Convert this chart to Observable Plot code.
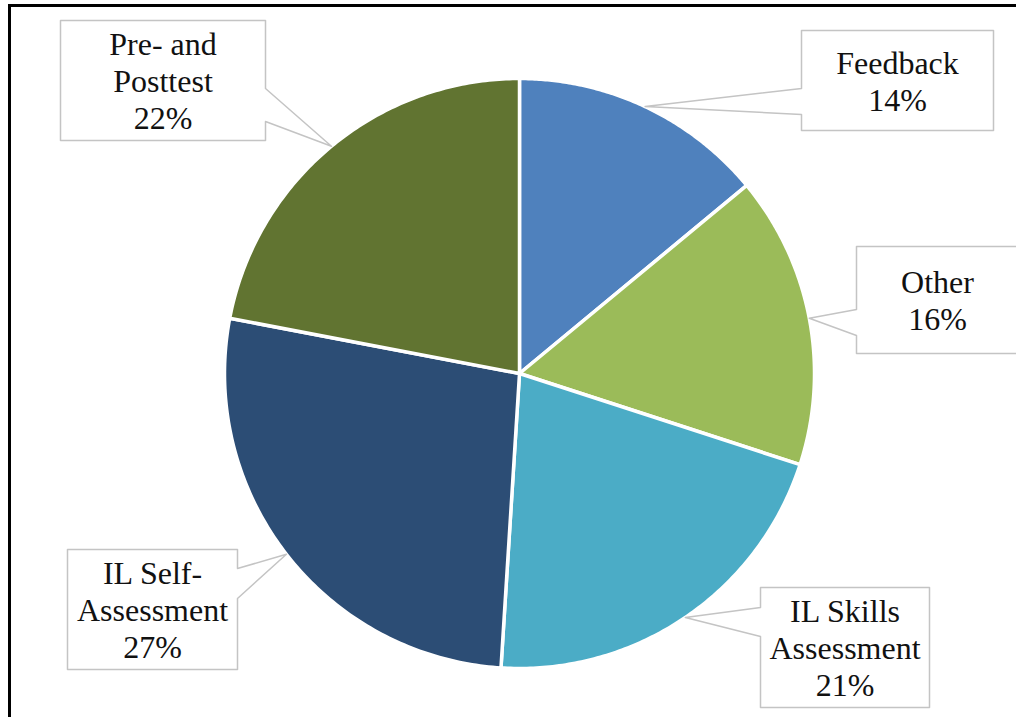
<!DOCTYPE html>
<html><head><meta charset="utf-8">
<script src="https://cdn.jsdelivr.net/npm/d3@7"></script>
<script src="https://cdn.jsdelivr.net/npm/@observablehq/plot@0.6"></script>
<style>
body{margin:0;background:#fff;}
#wrap{position:relative;width:1016px;height:717px;overflow:hidden;}
#frame{position:absolute;left:8px;top:4px;right:-10px;bottom:-10px;border-top:3px solid #000;border-left:3px solid #000;pointer-events:none;}
#chart svg, #chart text, #chart tspan { font-family: "Liberation Serif", "Times New Roman", Times, serif !important; }
</style></head><body><div id="wrap"><div id="chart"></div><div id="frame"></div></div>
<script>
// ---- data ----
const categories = ["Feedback", "Other", "IL Skills Assessment", "IL Self-Assessment", "Pre- and Posttest"];
const values = [14, 16, 21, 27, 22];
const labelTexts = ["Feedback\n14%", "Other\n16%", "IL Skills\nAssessment\n21%", "IL Self-\nAssessment\n27%", "Pre- and\nPosttest\n22%"];
const colors = ["#4F81BD", "#9BBB59", "#4BACC6", "#2C4D75", "#617431"];

// ---- layout (pixels) ----
const W = 1016, H = 717, cx = 519, cy = 373, R = 295;
const boxes = [
  {x1: 801, y1: 30, x2: 993, y2: 130, side: "left", n1: 88, n2: 114},
  {x1: 856, y1: 246, x2: 1022, y2: 353, side: "left", n1: 309, n2: 335},
  {x1: 760, y1: 587, x2: 929, y2: 707, side: "left", n1: 607, n2: 636},
  {x1: 67, y1: 549, x2: 237, y2: 669, side: "right", n1: 568, n2: 598},
  {x1: 60, y1: 20, x2: 265, y2: 140, side: "right", n1: 88, n2: 121}
];
const px = x => (x - cx) / R;
const py = y => (cy - y) / R;

const arcs = d3.pie().sort(null).value(d => d)(values);

const slicePts = [];
arcs.forEach((a, i) => {
  const cat = categories[i];
  slicePts.push({cat, x: 0, y: 0});
  const n = 120;
  for (let k = 0; k <= n; k++) {
    const t = a.startAngle + (a.endAngle - a.startAngle) * k / n;
    slicePts.push({cat, x: Math.sin(t), y: Math.cos(t)});
  }
  slicePts.push({cat, x: 0, y: 0});
});

const calloutPts = [];
const textData = [];
arcs.forEach((a, i) => {
  const b = boxes[i];
  const mid = (a.startAngle + a.endAngle) / 2;
  const tip = {x: Math.sin(mid) * 1.0, y: Math.cos(mid) * 1.0};
  const X1 = px(b.x1), X2 = px(b.x2), Y1 = py(b.y1), Y2 = py(b.y2), N1 = py(b.n1), N2 = py(b.n2);
  let pts;
  if (b.side === "left") {
    pts = [[X1, Y1], [X2, Y1], [X2, Y2], [X1, Y2], [X1, N2], [tip.x, tip.y], [X1, N1], [X1, Y1]];
  } else {
    pts = [[X1, Y1], [X2, Y1], [X2, N1], [tip.x, tip.y], [X2, N2], [X2, Y2], [X1, Y2], [X1, Y1]];
  }
  pts.forEach(([x, y]) => calloutPts.push({cat: categories[i], x, y}));
  textData.push({text: labelTexts[i], x: (X1 + Math.min(X2, px(W))) / 2, y: (Y1 + Y2) / 2});
});
// keep Other label centred in its visible box
textData[1].x = px(937);

const chart = Plot.plot({
  width: W,
  height: H,
  margin: 0,
  style: {fontFamily: "'Liberation Serif', 'Times New Roman', serif"},
  x: {domain: [px(0), px(W)], range: [0, W], axis: null},
  y: {domain: [py(H), py(0)], range: [H, 0], axis: null},
  color: {domain: categories, range: colors},
  marks: [
    Plot.line(slicePts, {x: "x", y: "y", z: "cat", fill: "cat", stroke: "white", strokeWidth: 3.5, strokeLinejoin: "round", curve: "linear"}),
    Plot.line(calloutPts, {x: "x", y: "y", z: "cat", fill: "white", stroke: "#c4c4c4", strokeWidth: 1.5, curve: "linear"}),
    Plot.text(textData, {x: "x", y: "y", text: "text", fontSize: 32, fontFamily: "'Liberation Serif', 'Times New Roman', serif", lineHeight: 1.16, textAnchor: "middle", lineAnchor: "middle", fill: "#111"})
  ]
});
document.getElementById("chart").appendChild(chart);
</script>
</body></html>
